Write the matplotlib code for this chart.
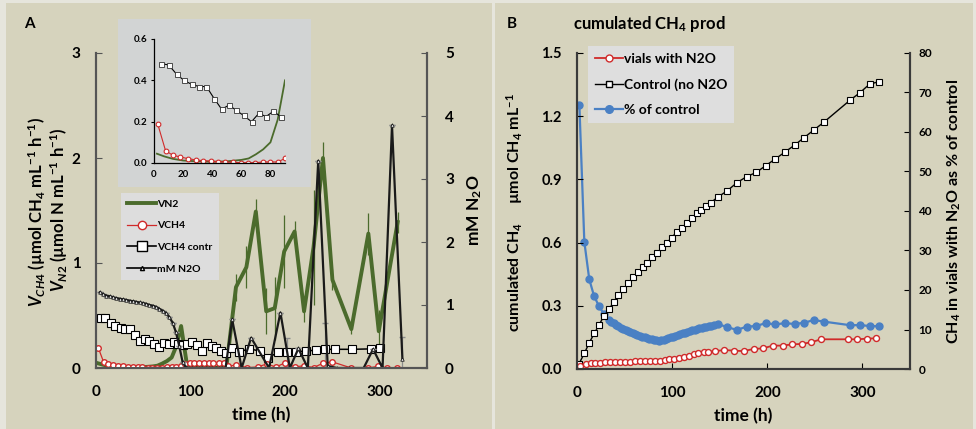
import matplotlib
matplotlib.use("Agg")
import matplotlib.pyplot as plt
from matplotlib.lines import Line2D
from matplotlib.patches import Rectangle

plt.rcParams["font.family"] = ["Lato", "DejaVu Sans"]
plt.rcParams["font.weight"] = "bold"
plt.rcParams["axes.labelweight"] = "bold"
plt.rcParams["mathtext.fontset"] = "custom"
plt.rcParams["mathtext.rm"] = "Lato:bold"
plt.rcParams["mathtext.it"] = "Lato:italic:bold"
plt.rcParams["mathtext.bf"] = "Lato:bold"
plt.rcParams["mathtext.default"] = "regular"

### Panel A data ###
vn2_t = [2, 7, 13, 20, 30, 40, 50, 60, 65, 70, 75, 80, 85, 90, 96, 100, 110, 120, 130, 138,
         148, 159, 169, 180, 189, 199, 210, 220, 230, 240, 250, 270, 288, 299, 319]
vn2 = [0.045, 0.032, 0.02, 0.012, 0.008, 0.006, 0.008, 0.015, 0.022, 0.042,
       0.066, 0.1, 0.21, 0.40, 0.04, 0.0, 0.0, 0.0, 0.0, 0.02,
       0.77, 0.96, 1.49, 0.54, 0.57, 1.11, 1.30, 0.54, 1.15, 2.0,
       0.84, 0.37, 1.28, 0.35, 1.39]
vn2_err = [0] * 20 + [0.13, 0.2, 0.12, 0.22, 0.3, 0.35, 0.1, 0.1, 0.55, 0.15,
                      0.1, 0.05, 0.2, 0.2, 0.1]

vch4_t = [2.5, 8, 13, 18, 23.5, 29, 34, 39, 44, 49, 54.5, 59.5, 64.5, 69.5, 75, 80, 85, 90, 94, 99,
          104, 109, 114, 119, 124, 130, 135, 140, 148, 160, 171, 181, 190, 200, 210, 220, 230, 240,
          250, 270, 288, 298, 308, 318]
vch4 = [0.19, 0.058, 0.038, 0.029, 0.021, 0.0145, 0.011, 0.0095, 0.0065, 0.005,
        0.003, 0.0015, 0.0015, 0.0015, 0.005, 0.005, 0.005, 0.022, 0.04, 0.044,
        0.044, 0.044, 0.044, 0.044, 0.044, 0.044, 0.044, 0.015, 0.03, 0.003,
        0.01, 0.04, 0.008, 0.05, 0.01, 0.022, 0.004, 0.045, 0.058, 0.0,
        0.0, 0.016, 0.0, 0.0]

ctrl_t = [5, 10, 15.5, 20.5, 26, 31, 36, 41.5, 46.5, 51.5, 56.5, 61.5, 67, 72, 77, 82, 87, 92, 96.5,
          102, 107, 112, 117.5, 122.5, 127, 132.5, 137, 144, 151, 162, 173, 182, 192, 202, 211.5,
          222, 232.5, 242.5, 253, 271, 290.5, 300.5]
ctrl = [0.48, 0.475, 0.43, 0.40, 0.38, 0.37, 0.37, 0.31, 0.26, 0.28,
        0.255, 0.23, 0.20, 0.24, 0.225, 0.25, 0.225, 0.22, 0.23, 0.25,
        0.215, 0.165, 0.235, 0.213, 0.187, 0.162, 0.142, 0.19, 0.15, 0.185,
        0.16, 0.095, 0.149, 0.152, 0.156, 0.162, 0.17, 0.178, 0.178, 0.178,
        0.182, 0.186]
ctrl_err = [0] * 30 + [0.03, 0, 0, 0.13, 0, 0, 0, 0.25, 0, 0, 0, 0]

n2o_t = [4, 7.5, 11, 14.5, 18, 21.5, 25, 28.5, 32, 35.5, 39, 42.5, 46, 49.5, 53, 56.5, 60, 63.5,
         67, 70.5, 74, 77.5, 81, 84.5, 88, 91.5, 95, 98.5, 102, 105.5, 109, 112.5, 116, 119.5,
         123, 126.5, 130, 133.5, 137, 144, 154, 164, 183, 195, 205, 214, 224, 235, 245, 255,
         268, 283, 293, 303, 313, 324]
n2o = [1.2, 1.17, 1.15, 1.14, 1.12, 1.11, 1.10, 1.09, 1.08, 1.07,
       1.06, 1.05, 1.04, 1.03, 1.02, 1.0, 0.99, 0.97, 0.94, 0.91,
       0.87, 0.81, 0.72, 0.57, 0.35, 0.1, 0.01,
       0, 0, 0, 0, 0, 0, 0, 0, 0, 0, 0, 0,
       0.77, 0, 0.48, 0, 0.88, 0, 0.31, 0, 3.29, 0.03, 0, 0, 0, 0.3, 0, 3.85, 0.14]
n2o_err = [0] * 55 + [0.35]

### Panel B data ###
cum_ctrl_t = [0, 2, 7.7, 12.9, 18.2, 23.1, 28.4, 33.7, 38.6, 43.5, 48.8, 54, 59.3, 64.6, 69.1, 74,
              79.3, 84.6, 89.5, 94.4, 99.6, 104.9, 110.2, 115.4, 120.7, 126, 130.2, 135.4, 140.7,
              147.7, 157.9, 168, 178.2, 188.4, 198.2, 208.4, 218.6, 228.8, 238.6, 248.8, 259.3,
              286.7, 297.2, 307.7, 317.9]
cum_ctrl = [0, 0.024, 0.074, 0.125, 0.169, 0.209, 0.252, 0.283, 0.319, 0.351,
            0.378, 0.407, 0.438, 0.462, 0.483, 0.505, 0.53, 0.552, 0.578, 0.6,
            0.623, 0.652, 0.671, 0.692, 0.715, 0.739, 0.755, 0.774, 0.79, 0.815,
            0.846, 0.884, 0.913, 0.933, 0.965, 0.997, 1.03, 1.063, 1.098, 1.134,
            1.171, 1.275, 1.311, 1.353, 1.364]

cum_n2o_t = [3.5, 9.5, 14.4, 18.9, 24.2, 29.5, 34.7, 40, 45.3, 50.5, 55.8, 61, 66.3, 71.6, 76.8,
             82.1, 87.4, 92, 97.2, 102.1, 106.7, 112, 117.2, 122.5, 127.7, 133, 138.2, 145.3,
             155, 165.3, 175, 185.6, 195.4, 206, 216.1, 226.3, 236.5, 246.3, 256.5, 284.6,
             294.4, 305, 314.7]
cum_n2o = [0.015, 0.024, 0.027, 0.030, 0.030, 0.032, 0.033, 0.033, 0.035, 0.035,
           0.035, 0.037, 0.037, 0.038, 0.038, 0.040, 0.040, 0.043, 0.046, 0.049,
           0.054, 0.058, 0.063, 0.069, 0.074, 0.079, 0.082, 0.085, 0.09, 0.087,
           0.085, 0.095, 0.098, 0.111, 0.111, 0.117, 0.119, 0.127, 0.141, 0.141,
           0.141, 0.144, 0.146]

pct_t = [2.5, 7.7, 12.9, 17.9, 23.1, 28.4, 33.7,
         36, 38.5, 41, 43.5, 46, 48.5, 51, 53.5, 56, 58.5, 61, 63.5, 66, 68.5, 71, 73.5, 76, 78.5,
         81, 83.5, 86, 88.5, 91, 93.5, 96, 98.5, 101, 103.5, 106, 108.5, 111, 113.5, 116, 118.5,
         121, 123.5, 126, 128.5, 131, 133.5, 136, 138.5, 141, 144,
         147.7, 157.9, 168, 178.2, 188.4, 198.2, 208.4, 218.6, 228.8, 238.6, 248.8, 259.3,
         286.7, 297.2, 307.7, 317.9]
pct = [66.8, 32.2, 22.7, 18.5, 15.9, 13.9, 12.4,
       12.0, 11.6, 11.2, 10.8, 10.5, 10.2, 9.9, 9.6, 9.35, 9.1,
       8.85, 8.6, 8.4, 8.2, 8.0, 7.85, 7.7, 7.55, 7.4, 7.3,
       7.2, 7.25, 7.4, 7.6, 7.8, 8.0, 8.2, 8.4, 8.6, 8.8,
       9.0, 9.2, 9.4, 9.6, 9.8, 10.0, 10.15, 10.3, 10.45, 10.6,
       10.75, 10.9, 11.0, 11.1,
       11.4, 10.6, 9.9, 10.7, 10.9, 11.6, 11.3, 11.6, 11.4, 11.7, 12.4, 12.0,
       11.1, 11.1, 10.9, 10.8]

GREEN = "#4b6b2c"
RED = "#d02a2a"
BLUE = "#4a80c4"
TAN = "#d6d3bd"
SPINE = "#555555"

W, H = 976, 429
fig = plt.figure(figsize=(W / 100, H / 100), dpi=100)
fig.patch.set_facecolor("#e6e5dc")


def fx(px):
    return px / W


def fy(py):
    return 1 - py / H


fig.patches.append(Rectangle((fx(6), 0), fx(486), fy(3), transform=fig.transFigure,
                             facecolor=TAN, edgecolor="none", zorder=-5))
fig.patches.append(Rectangle((fx(495), 0), fx(478), fy(3), transform=fig.transFigure,
                             facecolor=TAN, edgecolor="none", zorder=-5))
fig.patches.append(Rectangle((fx(118), fy(187)), fx(193), 168 / H, transform=fig.transFigure,
                             facecolor="#d2d4d4", edgecolor="none", zorder=-4))


def style_axes(ax, color):
    ax.patch.set_visible(False)
    ax.spines["top"].set_visible(False)
    for s in ["left", "right", "bottom"]:
        ax.spines[s].set_color(color)
        ax.spines[s].set_linewidth(1.5)


### Panel A ###
axA = fig.add_axes([fx(96), fy(368), fx(331), 315 / H])
axA2 = axA.twinx()
style_axes(axA, SPINE)
style_axes(axA2, SPINE)

axA.errorbar(vn2_t, vn2, yerr=vn2_err, color=GREEN, lw=2.8, ecolor=GREEN, elinewidth=0.9,
             capsize=0, zorder=2)
axA.errorbar(ctrl_t, ctrl, yerr=ctrl_err, fmt="none", ecolor="#8c8c8c", elinewidth=0.9,
             capsize=2.5, zorder=1)
axA.plot(ctrl_t, ctrl, color="black", lw=1.1, marker="s", ms=5.2, mfc="white", mec="black",
         mew=0.8, zorder=3)
axA.plot(vch4_t, vch4, color=RED, lw=0.9, marker="o", ms=4, mfc="white", mec=RED, mew=1.0,
         zorder=3)
axA2.errorbar(n2o_t, n2o, yerr=n2o_err, fmt="none", ecolor="#8c8c8c", elinewidth=0.9,
              capsize=2.5)
axA2.plot(n2o_t, n2o, color="#1a1a1a", lw=1.6, marker="^", ms=2.5, mfc="white", mec="#1a1a1a",
          mew=0.6)

axA.set_xlim(0, 350)
axA.set_ylim(0, 3)
axA2.set_ylim(0, 5)
axA.set_xticks([0, 100, 200, 300])
axA.set_yticks([0, 1, 2, 3])
axA2.set_yticks([0, 1, 2, 3, 4, 5])
axA.tick_params(axis="x", length=0, labelsize=11, pad=12)
axA.tick_params(axis="y", direction="in", length=4, color=SPINE, labelsize=11, pad=11)
axA2.tick_params(axis="y", direction="in", length=4, color=SPINE, labelsize=11, pad=13)
axA.set_xlabel("time (h)", fontsize=12.5, labelpad=6)
axA2.set_ylabel("mM N$_2$O", fontsize=12.5, labelpad=8)

fig.text(fx(37), fy(212), r"$\mathit{V}_{\mathit{CH4}}$ (µmol CH$_4$ mL$^{-1}$ h$^{-1}$)",
         rotation=90, ha="center", va="center", fontsize=12)
fig.text(fx(59), fy(210), r"$\mathit{V}_{\mathit{N2}}$ (µmol N mL$^{-1}$ h$^{-1}$)",
         rotation=90, ha="center", va="center", fontsize=12)
fig.text(fx(24), fy(24), "A", fontsize=11, ha="left", va="center")

# inset: first 90 h
inset = fig.add_axes([fx(154), fy(163), fx(131), 124 / H])
inset.patch.set_visible(False)
for s in ["top", "right"]:
    inset.spines[s].set_visible(False)
inset.spines["left"].set_color("black")
inset.spines["bottom"].set_color("black")
inset.spines["left"].set_linewidth(0.9)
inset.spines["bottom"].set_linewidth(0.9)
inset.plot(vn2_t[:14], vn2[:14], color=GREEN, lw=1.3)
inset.plot(ctrl_t[:17], ctrl[:17], color="black", lw=0.8, marker="s", ms=3.6, mfc="white",
           mec="#333333", mew=0.6)
inset.plot(vch4_t[:18], vch4[:18], color=RED, lw=0.8, marker="o", ms=3.4, mfc="white", mec=RED,
           mew=0.8)
inset.set_xlim(0, 90)
inset.set_ylim(0, 0.6)
inset.set_xticks([0, 20, 40, 60, 80])
inset.set_yticks([0, 0.2, 0.4, 0.6])
inset.set_yticklabels(["0.0", "0.2", "0.4", "0.6"])
inset.tick_params(axis="x", length=0, labelsize=7, pad=5)
inset.tick_params(axis="y", length=2, direction="out", labelsize=7, pad=3)

legA_handles = [
    Line2D([], [], color=GREEN, lw=2.8),
    Line2D([], [], color=RED, lw=0.9, marker="o", ms=6, mfc="white", mec=RED),
    Line2D([], [], color="black", lw=1.2, marker="s", ms=7, mfc="white", mec="black"),
    Line2D([], [], color="black", lw=1.2, marker="^", ms=3, mfc="white", mec="black"),
]
fig.legend(legA_handles, ["VN2", "VCH4", "VCH4 contr", "mM N2O"], loc="upper left",
           bbox_to_anchor=(fx(121), fy(193)), borderaxespad=0, fontsize=7.5,
           labelspacing=1.2, handlelength=2.8, handletextpad=0.1, borderpad=0.6,
           frameon=True, fancybox=False, facecolor="#dddddd", edgecolor="none",
           framealpha=1)

### Panel B ###
axB = fig.add_axes([fx(577), fy(369), fx(333), 316 / H])
axB2 = axB.twinx()
style_axes(axB, "#3a3a3a")
style_axes(axB2, "#3a3a3a")
axB.set_zorder(axB2.get_zorder() + 1)

axB2.plot(pct_t, pct, color=BLUE, lw=1.6, marker="o", ms=5, mfc=BLUE, mec=BLUE)
axB.plot(cum_ctrl_t, cum_ctrl, color="black", lw=1.0, marker="s", ms=4.8, mfc="white",
         mec="black", mew=0.8)
axB.plot(cum_n2o_t, cum_n2o, color=RED, lw=1.3, marker="o", ms=4.3, mfc="white", mec=RED,
         mew=1.0)

axB.set_xlim(0, 350)
axB.set_ylim(0, 1.5)
axB2.set_ylim(0, 80)
axB.set_xticks([0, 100, 200, 300])
axB.set_yticks([0, 0.3, 0.6, 0.9, 1.2, 1.5])
axB.set_yticklabels(["0.0", "0.3", "0.6", "0.9", "1.2", "1.5"])
axB2.set_yticks(range(0, 81, 10))
axB.tick_params(axis="x", direction="in", length=4, labelsize=11, pad=12)
axB.tick_params(axis="y", direction="in", length=4, labelsize=10.5, pad=11)
axB2.tick_params(axis="y", direction="in", length=4, labelsize=8.5, pad=6)
axB.set_xlabel("time (h)", fontsize=12.5, labelpad=6)
axB2.set_ylabel("CH$_4$ in vials with N$_2$O as % of control", fontsize=11.5, labelpad=10)
fig.text(fx(515), fy(212), "cumulated CH$_4$     µmol CH$_4$ mL$^{-1}$", rotation=90,
         ha="center", va="center", fontsize=11.5)
fig.text(fx(507), fy(24), "B", fontsize=11, ha="left", va="center")
fig.text(fx(573), fy(24), "cumulated CH$_4$ prod", fontsize=12, ha="left", va="center")

legB_handles = [
    Line2D([], [], color=RED, lw=1.3, marker="o", ms=5, mfc="white", mec=RED),
    Line2D([], [], color="black", lw=1.0, marker="s", ms=5, mfc="white", mec="black"),
    Line2D([], [], color=BLUE, lw=1.6, marker="o", ms=5.5, mfc=BLUE, mec=BLUE),
]
fig.legend(legB_handles, ["vials with N2O", "Control (no N2O", "% of control"],
           loc="upper left", bbox_to_anchor=(fx(588), fy(46)), borderaxespad=0, fontsize=10,
           labelspacing=0.95, handlelength=2.0, handletextpad=0.1, borderpad=0.5,
           frameon=True, fancybox=False, facecolor="#dedede", edgecolor="none", framealpha=1)

fig.savefig("out.png", dpi=100, facecolor=fig.get_facecolor())
